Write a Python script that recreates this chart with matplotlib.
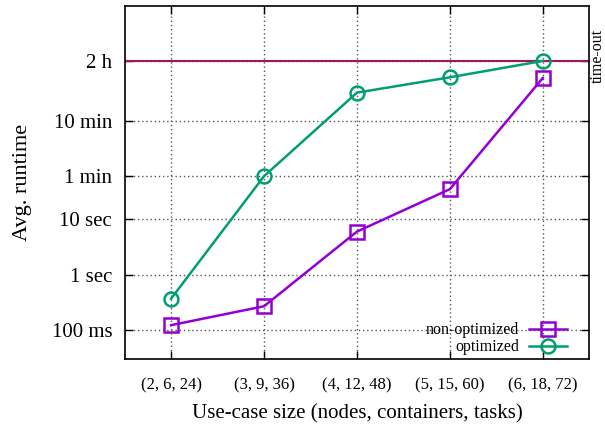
import matplotlib
matplotlib.use('Agg')
import matplotlib.pyplot as plt

sizes = ['(2, 6, 24)', '(3, 9, 36)', '(4, 12, 48)', '(5, 15, 60)', '(6, 18, 72)']
# avg runtime in seconds
non_optimized = [0.123, 0.27, 6.0, 35.0, 3550]
optimized = [0.37, 60, 1930, 3650, 7200]
timeout = 7200
ytick_vals = [0.1, 1, 10, 60, 600, 7200]
ytick_labels = ['100 ms', '1 sec', '10 sec', '1 min', '10 min', '2 h']

plt.rcParams['font.family'] = ['Liberation Serif', 'DejaVu Serif']

fig = plt.figure(figsize=(6.05, 4.25), dpi=100)
ax = fig.add_axes([0.206, 0.155, 0.768, 0.832])

x = list(range(len(sizes)))
ax.axhline(timeout, color='#a0175a', linewidth=1.5, zorder=2)
ax.plot(x, non_optimized, marker='s', markersize=10, markerfacecolor='none',
        markeredgewidth=1.8, linewidth=1.8, color='#9400d3', label='non-optimized', zorder=3)
ax.plot(x, optimized, marker='o', markersize=10, markerfacecolor='none',
        markeredgewidth=1.8, linewidth=1.8, color='#009e73', label='optimized', zorder=3)

ax.set_yscale('log')
ax.set_ylim(0.03, 72000)
ax.set_xlim(-0.5, 4.5)
ax.set_yticks(ytick_vals)
ax.set_yticklabels(ytick_labels)
ax.minorticks_off()
ax.set_xticks(x)
ax.set_xticklabels(sizes)
ax.tick_params(direction='in', length=6, width=1, top=True, right=True)
ax.tick_params(axis='y', labelsize=15, pad=9)
ax.tick_params(axis='x', labelsize=12, pad=13)
ax.grid(True, linestyle=(0, (1, 2)), color='#555555', linewidth=1)
for s in ax.spines.values():
    s.set_linewidth(1.2)

ax.set_xlabel('Use-case size (nodes, containers, tasks)', fontsize=15, labelpad=8)
ax.set_ylabel('Avg. runtime', fontsize=16, labelpad=14)
fig.text(598 / 605, 1 - 56 / 425, 'time-out', rotation=90,
         ha='center', va='center', fontsize=11.5)

ax.legend(loc='lower right', frameon=False, markerfirst=False, fontsize=11.5,
          handlelength=2.4, labelspacing=0.05, borderaxespad=0.4, handletextpad=0.6,
          bbox_to_anchor=(0.98, -0.025))

fig.savefig('out.png', dpi=100)
